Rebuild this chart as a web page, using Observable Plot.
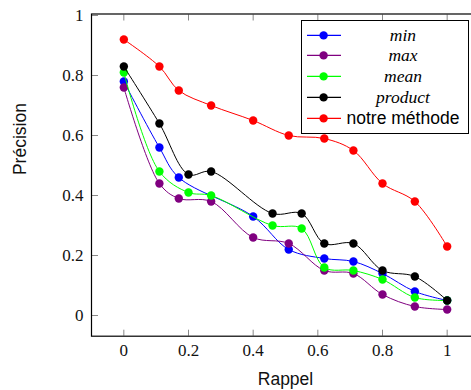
<!DOCTYPE html>
<html><head><meta charset="utf-8">
<script src="https://cdn.jsdelivr.net/npm/d3@7"></script>
<script src="https://cdn.jsdelivr.net/npm/@observablehq/plot@0.6"></script>
<style>
html,body{margin:0;padding:0;background:#fff;overflow:hidden}
#wrap{position:relative;width:471px;height:390px;overflow:hidden}
#wrap svg{display:block;overflow:hidden}
#wrap svg text{font-family:"Liberation Serif",serif !important}
#wrap svg g[aria-label="text"] text{font-family:"Liberation Sans",Arial,sans-serif !important}
#legend{position:absolute;left:300.7px;top:20px;width:168.6px;height:114px;box-sizing:border-box;border:1px solid #000;background:#fff;padding-top:3.6px}
.row{position:relative;height:20.75px}
.row svg{position:absolute;left:0;top:0}
.row span{position:absolute;left:44px;width:114.6px;text-align:center;top:0;height:20.75px;line-height:20.75px;font-size:17.5px;white-space:nowrap}
.it{font-family:"Liberation Serif",serif;font-style:italic}
.sans{font-family:"Liberation Sans",Arial,sans-serif}
</style>
</head><body>
<div id="wrap"><div id="legend"></div></div>
<script>
// ---- data ----
const seriesNames = ["min", "max", "mean", "product", "notre méthode"];
const seriesColors = ["#0000ff", "#800080", "#00ff00", "#000000", "#ff0000"];

const recallMin = [0, 0.11, 0.17, 0.40, 0.51, 0.62, 0.71, 0.80, 0.90, 1];
const precMin   = [0.78, 0.56, 0.46, 0.33, 0.22, 0.19, 0.18, 0.14, 0.08, 0.05];

const recallMax = [0, 0.11, 0.17, 0.27, 0.40, 0.51, 0.62, 0.71, 0.80, 0.90, 1];
const precMax   = [0.76, 0.44, 0.39, 0.38, 0.26, 0.24, 0.15, 0.14, 0.07, 0.03, 0.02];

const recallMean = [0, 0.11, 0.20, 0.27, 0.46, 0.55, 0.62, 0.71, 0.80, 0.90, 1];
const precMean   = [0.81, 0.48, 0.41, 0.40, 0.30, 0.29, 0.16, 0.15, 0.12, 0.06, 0.05];

const recallProduct = [0, 0.11, 0.20, 0.27, 0.46, 0.55, 0.62, 0.71, 0.80, 0.90, 1];
const precProduct   = [0.83, 0.64, 0.47, 0.48, 0.34, 0.34, 0.24, 0.24, 0.15, 0.13, 0.05];

const recallOurs = [0, 0.11, 0.17, 0.27, 0.40, 0.51, 0.62, 0.71, 0.80, 0.90, 1];
const precOurs   = [0.92, 0.83, 0.75, 0.70, 0.65, 0.60, 0.59, 0.55, 0.44, 0.38, 0.23];

const xTicks = [0, 0.2, 0.4, 0.6, 0.8, 1];
const xTickLabels = ["0", "0.2", "0.4", "0.6", "0.8", "1"];
const yTicks = [0, 0.2, 0.4, 0.6, 0.8, 1];
const yTickLabels = ["0", "0.2", "0.4", "0.6", "0.8", "1"];
const xLabel = "Rappel";
const yLabel = "Précision";

// ---- build ----
const recalls = [recallMin, recallMax, recallMean, recallProduct, recallOurs];
const precs = [precMin, precMax, precMean, precProduct, precOurs];
const series = seriesNames.map((name, k) => ({
  name, color: seriesColors[k],
  data: recalls[k].map((r, i) => ({r, p: precs[k][i]}))
}));

const serif = "Liberation Serif, serif";
const sans = "Liberation Sans, Arial, sans-serif";
const tickColor = "#888";
const chart = Plot.plot({
  width: 471, height: 390,
  marginLeft: 91, marginRight: -8, marginTop: 13.5, marginBottom: 54.3,
  style: {fontFamily: serif, fontSize: "17px", background: "white", overflow: "hidden"},
  x: {domain: [-0.1, 1.1]},
  y: {domain: [-0.069, 1.005]},
  marks: [
    Plot.axisX(xTicks, {anchor: "bottom", tickSize: 6, dy: -6, stroke: tickColor, tickFormat: () => "", label: null}),
    Plot.axisX(xTicks, {anchor: "top", tickSize: 6, dy: 6, stroke: tickColor, tickFormat: () => "", label: null}),
    Plot.axisY(yTicks, {anchor: "left", tickSize: 7, dx: 7, stroke: tickColor, tickFormat: () => "", label: null}),
    Plot.axisX(xTicks, {anchor: "bottom", tickSize: 0, tickPadding: 8, fill: "#111", fontFamily: serif, fontSize: 17, tickFormat: (d, i) => xTickLabels[i], label: null}),
    Plot.axisY(yTicks, {anchor: "left", tickSize: 0, tickPadding: 8, fill: "#111", fontFamily: serif, fontSize: 17, tickFormat: (d, i) => yTickLabels[i], label: null}),
    ...series.flatMap(s => [
      Plot.line(s.data, {x: "r", y: "p", stroke: s.color, strokeWidth: 1, curve: "catmull-rom"}),
      Plot.dot(s.data, {x: "r", y: "p", r: 4.2, fill: s.color, stroke: "none"})
    ]),
    Plot.frame({stroke: "#000", strokeWidth: 1.2}),
    Plot.text([xLabel], {frameAnchor: "bottom", dy: 43.3, lineAnchor: "middle", fontFamily: sans, fontSize: 17.5, fill: "#111"}),
    Plot.text([yLabel], {frameAnchor: "left", dx: -71, rotate: -90, lineAnchor: "middle", fontFamily: sans, fontSize: 17.5, fill: "#111"})
  ]
});
const wrap = document.getElementById("wrap");
wrap.insertBefore(chart, wrap.firstChild);

// ---- legend ----
const legend = document.getElementById("legend");
series.forEach((s, k) => {
  const row = document.createElement("div");
  row.className = "row";
  row.innerHTML = `<svg width="42" height="20.75"><line x1="5" x2="39" y1="10.4" y2="10.4" stroke="${s.color}" stroke-width="1.2"/><circle cx="21.6" cy="10.4" r="4.2" fill="${s.color}"/></svg>`;
  const sp = document.createElement("span");
  sp.className = k === series.length - 1 ? "sans" : "it";
  sp.textContent = s.name;
  row.appendChild(sp);
  legend.appendChild(row);
});
</script>
</body></html>
